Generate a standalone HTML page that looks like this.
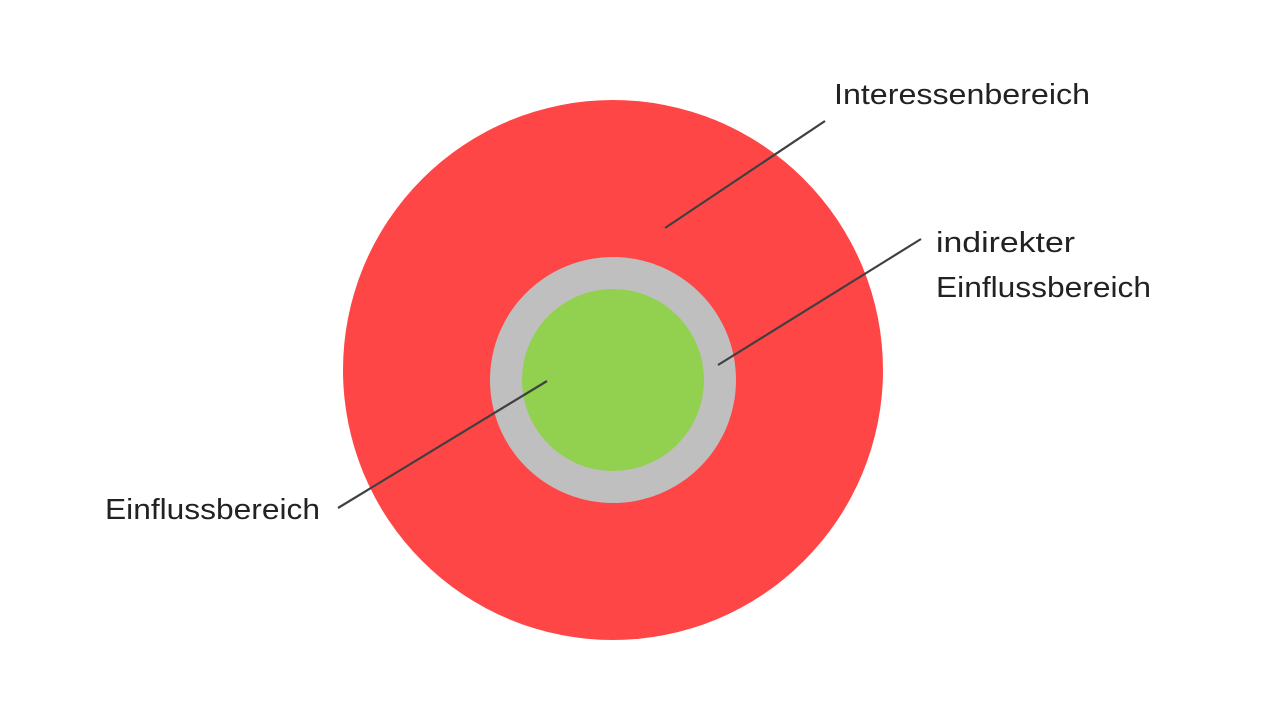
<!DOCTYPE html>
<html><head><meta charset="utf-8"><style>
html,body{margin:0;padding:0;background:#fff;}
svg{display:block;}
text{font-family:"Liberation Sans",sans-serif;font-size:29px;fill:#222;}
</style></head><body>
<svg width="1280" height="720" viewBox="0 0 1280 720" xmlns="http://www.w3.org/2000/svg">
<rect width="1280" height="720" fill="#fff"/>
<circle cx="613" cy="370" r="270" fill="#FF4646"/>
<circle cx="613" cy="380" r="123" fill="#BFBFBF"/>
<circle cx="613" cy="380" r="91" fill="#92D050"/>
<g stroke="#404040" stroke-width="2.2">
<line x1="825" y1="121" x2="665" y2="228"/>
<line x1="921" y1="239" x2="718" y2="365"/>
<line x1="547" y1="381" x2="338" y2="508"/>
</g>
<text x="834" y="104" textLength="256" lengthAdjust="spacingAndGlyphs">Interessenbereich</text>
<text x="936" y="252" textLength="139" lengthAdjust="spacingAndGlyphs">indirekter</text>
<text x="936" y="297" textLength="215" lengthAdjust="spacingAndGlyphs">Einflussbereich</text>
<text x="105" y="519" textLength="215" lengthAdjust="spacingAndGlyphs">Einflussbereich</text>
</svg>
</body></html>
